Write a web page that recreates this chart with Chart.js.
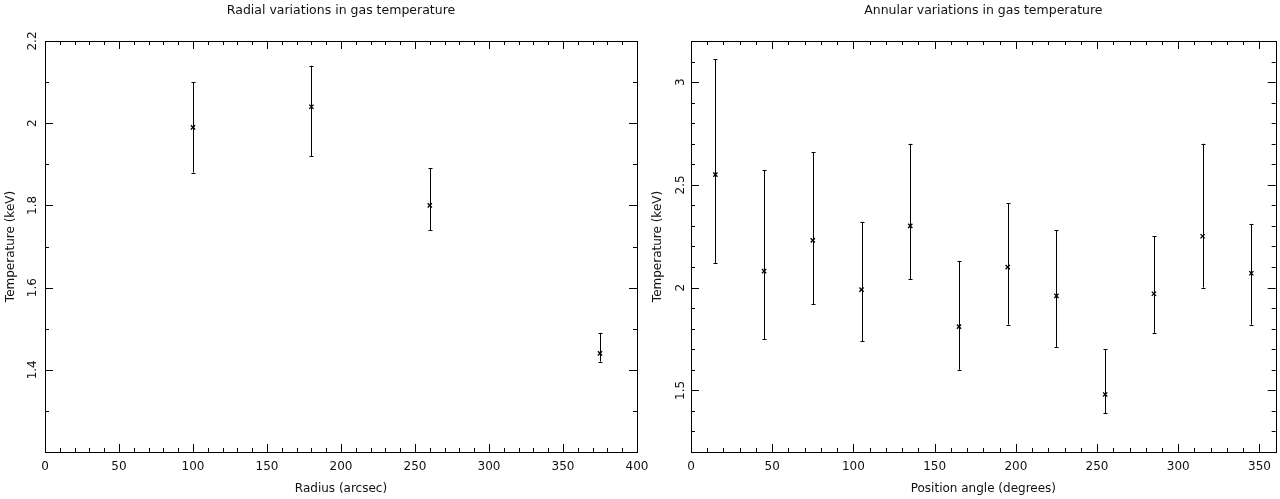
<!DOCTYPE html>
<html>
<head>
<meta charset="utf-8">
<title>Gas temperature</title>
<script src="https://cdn.jsdelivr.net/npm/chart.js@4.4.1/dist/chart.umd.min.js"></script>
<style>
    html, body { margin: 0; padding: 0; background: #fff; }
    #wrap { position: relative; width: 1280px; height: 499px; overflow: hidden; }
    #radialBox { position: absolute; left: 0; top: 0; }
    #annularBox { position: absolute; left: 640px; top: 0; }
</style>
</head>
<body>
<div id="wrap">
    <div id="radialBox"><canvas id="radialChart" width="660" height="499"></canvas></div>
    <div id="annularBox"><canvas id="annularChart" width="640" height="499"></canvas></div>
</div>
<script>
// ---------- data ----------
const radius = [100, 180, 260, 375];
const radialTemp = [1.99, 2.04, 1.80, 1.44];
const radialLow = [1.88, 1.92, 1.74, 1.42];
const radialHigh = [2.10, 2.14, 1.89, 1.49];

const angle = [15, 45, 75, 105, 135, 165, 195, 225, 255, 285, 315, 345];
const annularTemp = [2.55, 2.08, 2.23, 1.99, 2.30, 1.81, 2.10, 1.96, 1.48, 1.97, 2.25, 2.07];
const annularLow = [2.12, 1.75, 1.92, 1.74, 2.04, 1.60, 1.82, 1.71, 1.39, 1.78, 2.00, 1.82];
const annularHigh = [3.11, 2.57, 2.66, 2.32, 2.70, 2.13, 2.41, 2.28, 1.70, 2.25, 2.70, 2.31];

const radialYTicks = [1.4, 1.6, 1.8, 2, 2.2];
const annularYTicks = [1.5, 2, 2.5, 3];

// ---------- defaults ----------
Chart.defaults.font.family = "'DejaVu Sans', sans-serif";
Chart.defaults.font.size = 12;
Chart.defaults.color = '#111';

// frame, inward ticks (PGPLOT style), rotated y labels, error bars
const framePlugin = {
    id: 'pgFrame',
    afterDatasetsDraw(chart, args, opts) {
        const ctx = chart.ctx;
        const area = chart.chartArea;
        const xs = chart.scales.x;
        const ys = chart.scales.y;

        ctx.save();
        ctx.strokeStyle = '#000';
        ctx.lineWidth = 1;

        // error bars
        const low = opts.low, high = opts.high;
        chart.data.datasets[0].data.forEach(function (p, i) {
            const px = Math.round(xs.getPixelForValue(p.x)) + 0.5;
            const y1 = ys.getPixelForValue(low[i]);
            const y2 = ys.getPixelForValue(high[i]);
            ctx.beginPath();
            ctx.moveTo(px, y1); ctx.lineTo(px, y2);
            ctx.moveTo(px - 2, Math.round(y1) + 0.5); ctx.lineTo(px + 2, Math.round(y1) + 0.5);
            ctx.moveTo(px - 2, Math.round(y2) + 0.5); ctx.lineTo(px + 2, Math.round(y2) + 0.5);
            ctx.stroke();
        });

        // frame
        ctx.strokeRect(Math.round(area.left) + 0.5, Math.round(area.top) + 0.5,
            Math.round(area.right - area.left), Math.round(area.bottom - area.top));

        // ticks
        function ticks(scale, minor, major, horizontal) {
            const n = Math.round((scale.max - scale.min) / minor);
            for (let k = 0; k <= n; k++) {
                const v = scale.min + k * minor;
                const r = v / major;
                const len = Math.abs(r - Math.round(r)) < 1e-6 ? 8 : 4;
                const p = Math.round(scale.getPixelForValue(v)) + 0.5;
                ctx.beginPath();
                if (horizontal) {
                    ctx.moveTo(p, area.bottom); ctx.lineTo(p, area.bottom - len);
                    ctx.moveTo(p, area.top); ctx.lineTo(p, area.top + len);
                } else {
                    ctx.moveTo(area.left, p); ctx.lineTo(area.left + len, p);
                    ctx.moveTo(area.right, p); ctx.lineTo(area.right - len, p);
                }
                ctx.stroke();
            }
        }
        ticks(xs, opts.xMinor, opts.xMajor, true);
        ticks(ys, opts.yMinor, opts.yMajor, false);

        // rotated y tick labels
        ctx.fillStyle = '#111';
        ctx.font = "12px 'DejaVu Sans', sans-serif";
        ctx.textAlign = 'center';
        ctx.textBaseline = 'middle';
        opts.yLabels.forEach(function (v) {
            ctx.save();
            ctx.translate(area.left - opts.yLabelGap, ys.getPixelForValue(v));
            ctx.rotate(-Math.PI / 2);
            ctx.fillText(String(v), 0, 0);
            ctx.restore();
        });
        ctx.restore();
    }
};

function makeChart(canvasId, cfg) {
    return new Chart(document.getElementById(canvasId), {
        type: 'scatter',
        data: {
            datasets: [{
                data: cfg.x.map(function (v, i) { return { x: v, y: cfg.y[i] }; }),
                pointStyle: 'crossRot',
                pointRadius: 3,
                pointHoverRadius: 3,
                borderColor: '#000',
                backgroundColor: '#000',
                borderWidth: 1.3
            }]
        },
        options: {
            responsive: false,
            animation: false,
            events: [],
            layout: { padding: { left: 0, right: cfg.padRight, top: 0, bottom: 0 } },
            plugins: {
                legend: { display: false },
                tooltip: { enabled: false },
                title: {
                    display: true,
                    text: cfg.title,
                    fullSize: false,
                    font: { size: 12.5, weight: 'normal' },
                    color: '#111',
                    padding: { top: 3, bottom: 23 }
                },
                pgFrame: {
                    low: cfg.low, high: cfg.high,
                    xMinor: 10, xMajor: 50,
                    yMinor: 0.1, yMajor: cfg.yMajor,
                    yLabels: cfg.yLabels,
                    yLabelGap: cfg.yLabelGap
                }
            },
            scales: {
                x: {
                    type: 'linear',
                    min: cfg.xMin, max: cfg.xMax,
                    border: { display: false },
                    grid: { display: false },
                    ticks: { stepSize: 50, padding: 0, includeBounds: false, color: '#111',
                        callback: function (v) { return String(v); } },
                    title: { display: true, text: cfg.xTitle, color: '#111', padding: { top: 0, bottom: 3 } },
                    afterFit: function (s) { s.height = 47; }
                },
                y: {
                    type: 'linear',
                    min: cfg.yMin, max: cfg.yMax,
                    border: { display: false },
                    grid: { display: false },
                    ticks: { display: false, stepSize: cfg.yMajor },
                    title: { display: true, text: 'Temperature (keV)', color: '#111', padding: { top: cfg.yTitlePad, bottom: 0 } },
                    afterFit: function (s) { s.width = cfg.yWidth; }
                }
            }
        },
        plugins: [framePlugin]
    });
}

// radial panel
makeChart('radialChart', {
    x: radius, y: radialTemp, low: radialLow, high: radialHigh,
    title: 'Radial variations in gas temperature',
    xTitle: 'Radius (arcsec)',
    xMin: 0, xMax: 400, yMin: 1.2, yMax: 2.2, yMajor: 0.2,
    yLabels: radialYTicks, yLabelGap: 12,
    yWidth: 45, yTitlePad: 4, padRight: 23
});

// annular panel
makeChart('annularChart', {
    x: angle, y: annularTemp, low: annularLow, high: annularHigh,
    title: 'Annular variations in gas temperature',
    xTitle: 'Position angle (degrees)',
    xMin: 0, xMax: 360, yMin: 1.2, yMax: 3.2, yMajor: 0.5,
    yLabels: annularYTicks, yLabelGap: 10,
    yWidth: 51, yTitlePad: 11, padRight: 1
});
</script>
</body>
</html>
